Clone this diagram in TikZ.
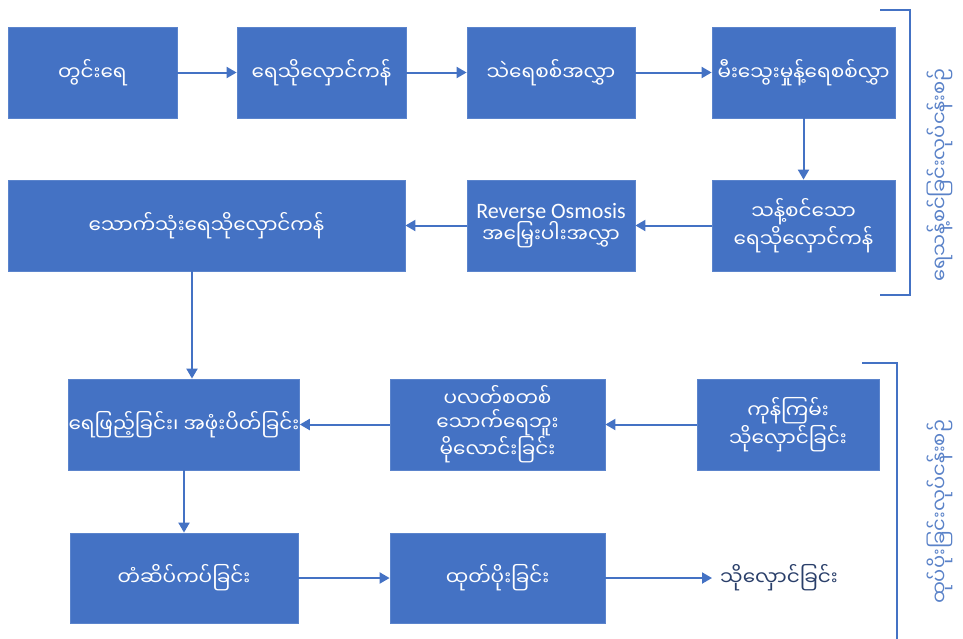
\documentclass[tikz,border=0pt]{standalone}
\usepackage{fontspec}
\usetikzlibrary{arrows.meta}
\newfontfamily\my[Script=Myanmar]{Noto Sans Myanmar UI}
\newfontfamily\lat{Carlito}
\definecolor{boxblue}{HTML}{4472C4}
\definecolor{edgeblue}{HTML}{5B84CC}
\definecolor{txtdark}{HTML}{2A3F6A}
\definecolor{sideblue}{HTML}{5A82C8}
\tikzset{
  box/.style={fill=boxblue, draw=edgeblue, line width=0.8pt, text=white, align=center,
    inner sep=0pt, font=\my\fontsize{20}{23.5}\selectfont},
  arr/.style={draw=boxblue, line width=2pt, -{Triangle[length=10pt,width=11pt]}},
  brk/.style={draw=boxblue, line width=1.6pt},
  side/.style={text=sideblue, rotate=90, font=\my\fontsize{19.5}{24}\selectfont}
}
\begin{document}
\begin{tikzpicture}[x=1pt,y=-1pt]
\useasboundingbox (0,0) rectangle (963,638);
% row 1
\node[box, minimum width=169, minimum height=91] (b1) at (92.5,72.5) {တွင်းရေ};
\node[box, minimum width=169, minimum height=91] (b2) at (321.5,72.5) {ရေသိုလှောင်ကန်};
\node[box, minimum width=168, minimum height=91] (b3) at (551,72.5) {သဲရေစစ်အလွှာ};
\node[box, minimum width=183, minimum height=91] (b4) at (803.5,72.5) {မီးသွေးမှုန့်ရေစစ်လွှာ};
% row 2
\node[box, minimum width=183, minimum height=91] (b5) at (803.5,225.5) {သန့်စင်သော\\ရေသိုလှောင်ကန်};
\node[box, minimum width=168, minimum height=91] (b6) at (551,225.5) {{\lat\fontsize{22}{23}\selectfont Reverse Osmosis}\\အမြှေးပါးအလွှာ};
\node[box, minimum width=397, minimum height=91] (b7) at (206.5,225.5) {သောက်သုံးရေသိုလှောင်ကန်};
% row 3
\node[box, minimum width=182, minimum height=91] (b8) at (788,424.5) {ကုန်ကြမ်း\\သိုလှောင်ခြင်း};
\node[box, minimum width=215, minimum height=91] (b9) at (497.5,424.5) {ပလတ်စတစ်\\သောက်ရေဘူး\\မိုလောင်းခြင်း};
\node[box, minimum width=228, minimum height=91] (b10) at (184,424.5) {ရေဖြည့်ခြင်း၊ အဖုံးပိတ်ခြင်း};
% row 4
\node[box, minimum width=228, minimum height=90] (b11) at (184,578) {တံဆိပ်ကပ်ခြင်း};
\node[box, minimum width=215, minimum height=90] (b12) at (497.5,578) {ထုတ်ပိုးခြင်း};
\node[text=txtdark, anchor=west, inner sep=0pt, font=\my\fontsize{20}{23}\selectfont] (t13) at (720,578) {သိုလှောင်ခြင်း};
% arrows
\draw[arr] (b1) -- (b2);
\draw[arr] (b2) -- (b3);
\draw[arr] (b3) -- (b4);
\draw[arr] (b4) -- (b5);
\draw[arr] (b5) -- (b6);
\draw[arr] (b6) -- (b7);
\draw[arr] ([xshift=-14.5]b7.south) -- ([xshift=-14.5]b7.south |- b10.north);
\draw[arr] (b8) -- (b9);
\draw[arr] (b9) -- (b10);
\draw[arr] (b10) -- (b11);
\draw[arr] (b11) -- (b12);
\draw[arr] (b12.east) -- ([xshift=-8]t13.west);
% brackets
\coordinate (u1) at (880,10);
\coordinate (u2) at (910,10);
\coordinate (u3) at (910,295);
\coordinate (u4) at (880,295);
\draw[brk] (u1) -- (u2) -- (u3) -- (u4);
\coordinate (l1) at (862,363);
\coordinate (l2) at (897,363);
\coordinate (l3) at (897,640);
\draw[brk] (l1) -- (l2) -- (l3);
\node[side] (s1) at (940,175) {ရေသန့်စင်ခြင်းလုပ်ငန်းစဉ်};
\node[side] (s2) at (940,512) {ထုပ်ပိုးခြင်းလုပ်ငန်းစဉ်};
\end{tikzpicture}
\end{document}
